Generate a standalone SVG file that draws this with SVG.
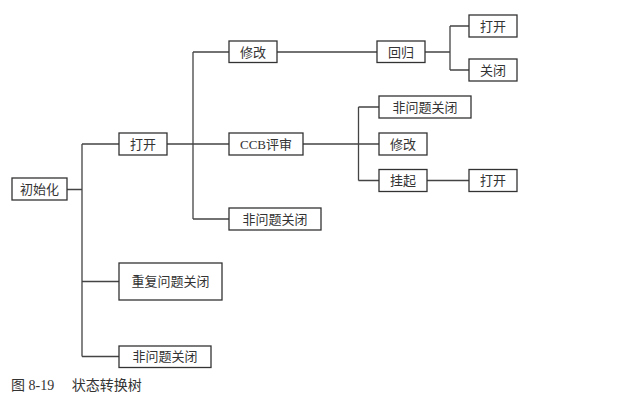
<svg xmlns="http://www.w3.org/2000/svg" width="640" height="403" viewBox="0 0 640 403">
<style>
.n rect{fill:#fff;stroke:#333;stroke-width:1.3}
.n text{font-family:"Liberation Serif","Noto Sans CJK SC",serif;font-size:13px;fill:#333;text-anchor:middle;dominant-baseline:central}
#edges path{fill:none;stroke:#444;stroke-width:1.3}
.cap{font-family:"Liberation Serif","Noto Sans CJK SC",serif;font-size:14px;fill:#333}
</style>
<rect width="640" height="403" fill="#fff"/>
<g id="edges">
<path d="M67 189.5H82M82 144V356.5M82 144H119M82 281.5H119M82 356.5H119"/>
<path d="M167 144H229M193 52V219M193 52H229M193 219H229"/>
<path d="M277 52H377M425 52H450M450 26V70M450 26H469M450 70H469"/>
<path d="M303 144H379M358.5 107V180.5M358.5 107H379M358.5 180.5H379M427 180.5H469"/>
</g>
<g id="n-init" class="n"><rect x="12" y="178" width="55" height="22"/><text x="39.5" y="189.5">初始化</text></g>
<g id="n-open" class="n"><rect x="119" y="133" width="48" height="22"/><text x="143" y="144">打开</text></g>
<g id="n-dup" class="n"><rect x="119" y="263" width="103" height="37"/><text x="170.5" y="281.5">重复问题关闭</text></g>
<g id="n-nonissue1" class="n"><rect x="119" y="346" width="92" height="21.5"/><text x="165" y="356.5">非问题关闭</text></g>
<g id="n-fix1" class="n"><rect x="229" y="41" width="48" height="21.5"/><text x="253" y="52">修改</text></g>
<g id="n-ccb" class="n"><rect x="229" y="133" width="74" height="22"/><text x="266" y="144">CCB评审</text></g>
<g id="n-nonissue2" class="n"><rect x="229" y="208" width="92" height="22"/><text x="275" y="219">非问题关闭</text></g>
<g id="n-regress" class="n"><rect x="377" y="41" width="48" height="21.5"/><text x="401" y="52">回归</text></g>
<g id="n-open2" class="n"><rect x="469" y="15" width="48" height="22"/><text x="493" y="26">打开</text></g>
<g id="n-close" class="n"><rect x="469" y="59" width="48" height="22"/><text x="493" y="70">关闭</text></g>
<g id="n-nonissue3" class="n"><rect x="379" y="96" width="92" height="22"/><text x="425" y="107">非问题关闭</text></g>
<g id="n-fix2" class="n"><rect x="379" y="133" width="48" height="22"/><text x="403" y="144">修改</text></g>
<g id="n-hang" class="n"><rect x="379" y="169.5" width="48" height="22"/><text x="403" y="180.5">挂起</text></g>
<g id="n-open3" class="n"><rect x="469" y="169.5" width="48" height="22"/><text x="493" y="180.5">打开</text></g>
<text class="cap" x="11" y="390">图 8-19　  状态转换树</text>
</svg>
